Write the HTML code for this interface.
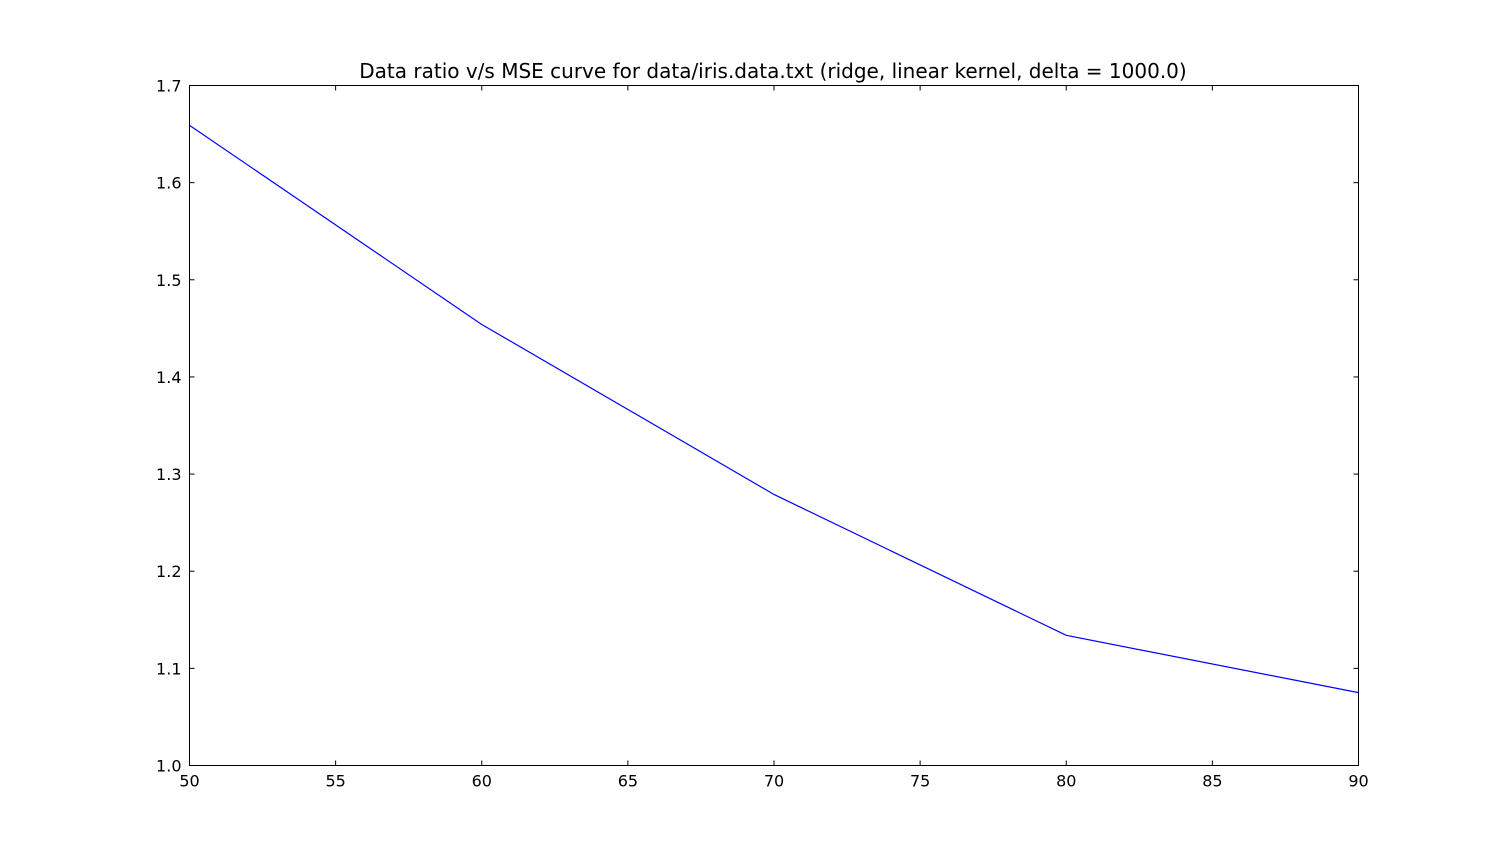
<!DOCTYPE html>
<html>
<head>
<meta charset="utf-8">
<style>
  html, body { margin: 0; padding: 0; background: #fff; }
  svg { display: block; font-family: "DejaVu Sans", "Liberation Sans", sans-serif; }
</style>
</head>
<body>
<svg id="chart" width="1508" height="850" xmlns="http://www.w3.org/2000/svg">
  <rect width="1508" height="850" fill="#fff"/>
  <text x="773" y="78" text-anchor="middle" font-size="20" fill="#000">Data ratio v/s MSE curve for data/iris.data.txt (ridge, linear kernel, delta = 1000.0)</text>
  <g id="ticks"></g>
  <g id="series"></g>
  <rect x="189.5" y="85.5" width="1169" height="680" fill="none" stroke="#000" stroke-width="1"/>
</svg>
<script>
const xCategories = [50, 60, 70, 80, 90];
const mseValues = [1.659, 1.454, 1.279, 1.134, 1.075];
const xTickLabels = ["50", "55", "60", "65", "70", "75", "80", "85", "90"];
const yTickLabels = ["1.0", "1.1", "1.2", "1.3", "1.4", "1.5", "1.6", "1.7"];

const L = 189.5, R = 1358.5, T = 85.5, B = 765.5;
const xMin = 50, xMax = 90, yMin = 1.0, yMax = 1.7;
function xs(v) { return L + (v - xMin) / (xMax - xMin) * (R - L); }
function ys(v) { return B - (v - yMin) / (yMax - yMin) * (B - T); }

const NS = "http://www.w3.org/2000/svg";
const ticks = document.getElementById("ticks");
const series = document.getElementById("series");

function mk(tag, attrs) {
  const e = document.createElementNS(NS, tag);
  for (const k in attrs) e.setAttribute(k, attrs[k]);
  return e;
}

xTickLabels.forEach(function (lab) {
  const x = xs(parseFloat(lab));
  const t1 = mk("line", { x1: x, x2: x, y1: B, y2: B - 5, stroke: "#000" });
  
  
  ticks.appendChild(t1);
  const t2 = mk("line", { x1: x, x2: x, y1: T, y2: T + 5, stroke: "#000" });
  
  
  ticks.appendChild(t2);
  const tx = mk("text", { x: x, y: B + 21, "text-anchor": "middle", "font-size": "16", fill: "#000" });
  tx.textContent = lab;
  
  
  ticks.appendChild(tx);
});

yTickLabels.forEach(function (lab) {
  const y = ys(parseFloat(lab));
  const t1 = mk("line", { x1: L, x2: L + 5, y1: y, y2: y, stroke: "#000" });
  
  
  ticks.appendChild(t1);
  const t2 = mk("line", { x1: R, x2: R - 5, y1: y, y2: y, stroke: "#000" });
  
  
  ticks.appendChild(t2);
  const tx = mk("text", { x: L - 8, y: y + 6, "text-anchor": "end", "font-size": "16", fill: "#000" });
  tx.textContent = lab;
  
  
  ticks.appendChild(tx);
});

const pts = xCategories.map(function (c, i) { return xs(c) + "," + ys(mseValues[i]); }).join(" ");
const line = mk("polyline", { points: pts, fill: "none", stroke: "#0000ff", "stroke-width": "1.2" });


series.appendChild(line);
</script>
</body>
</html>
